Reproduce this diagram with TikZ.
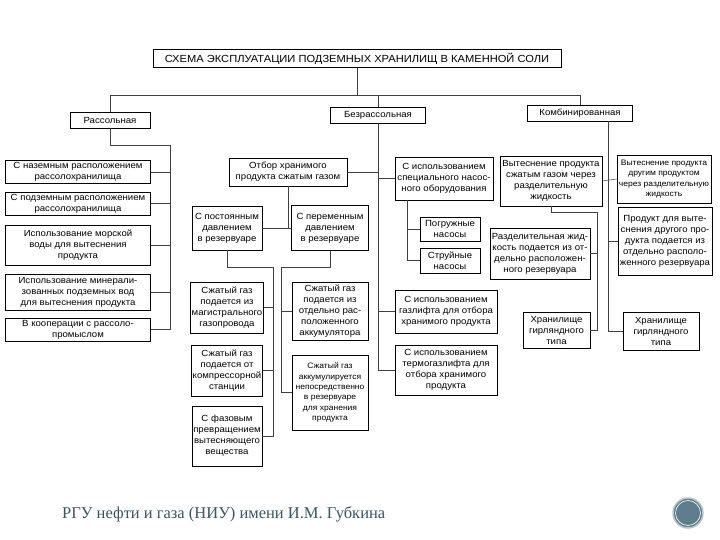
\documentclass[tikz,border=0pt]{standalone}
\usepackage{fontspec}
\setmainfont{Liberation Sans}[FakeStretch=1.08]
\newfontfamily\footfont{Liberation Serif}
\usetikzlibrary{positioning}

\definecolor{footcol}{HTML}{3B5563}
\definecolor{markcol}{HTML}{5F7E8C}
\definecolor{markring}{HTML}{B9C7CD}

\tikzset{
  blk/.style={draw=black, line width=0.7pt, align=center, inner sep=1pt,
    font=\fontsize{8.9}{11}\selectfont},
  small/.style={font=\fontsize{7.9}{10.3}\selectfont},
  wire/.style={draw=black!75, line width=0.5pt},
}

\begin{document}
\begin{tikzpicture}[x=1pt,y=-1pt]
\useasboundingbox[fill=white] (0,0) rectangle (720,540);

% head
\node[blk, line width=1pt, minimum width=408, minimum height=18, font=\fontsize{10.3}{12}\selectfont] (title) at (357,59) {СХЕМА ЭКСПЛУАТАЦИИ ПОДЗЕМНЫХ ХРАНИЛИЩ В КАМЕННОЙ СОЛИ};
\node[blk, minimum width=80, minimum height=16] (rass) at (110,120) {Рассольная};
\node[blk, minimum width=95, minimum height=16] (bezr) at (378,115) {Безрассольная};
\node[blk, minimum width=105, minimum height=16] (komb) at (580,113) {Комбинированная};
\coordinate (bus) at (0,95);

\draw[wire] (title.south) -- (title.south |- bus);
\draw[wire] (rass.north) |- (komb.north |- bus) -- (komb.north);
\draw[wire] (bezr.north) -- (bezr.north |- bus);

% brine column
\node[blk, minimum width=145, minimum height=23] (L1) at (78,172) {С наземным расположением\\рассолохранилища};
\node[blk, minimum width=145, minimum height=23] (L2) at (78,203.5) {С подземным расположением\\рассолохранилища};
\node[blk, minimum width=145, minimum height=40] (L3) at (78,245) {Использование морской\\воды для вытеснения\\продукта};
\node[blk, minimum width=145, minimum height=36] (L4) at (78,292) {Использование минерали-\\зованных подземных вод\\для вытеснения продукта};
\node[blk, minimum width=145, minimum height=23] (L5) at (78,329.5) {В кооперации с рассоло-\\промыслом};

\coordinate (lt) at (170,145);
\draw[wire] (rass.south) |- (lt) -- (lt |- L5.east) -- (L5.east);
\foreach \n in {L1,L2,L3,L4}
  \draw[wire] (\n.east) -- (\n.east -| lt);

% gas column
\node[blk, minimum width=118, minimum height=28] (otbor) at (288,172) {Отбор хранимого\\продукта сжатым газом};
\node[blk, minimum width=70, minimum height=44] (pconst) at (227,228) {С постоянным\\давлением\\в резервуаре};
\node[blk, minimum width=77, minimum height=45] (pvar) at (330,228) {С переменным\\давлением\\в резервуаре};

\draw[wire] (otbor.south) -- (otbor.south |- pconst.east);
\draw[wire] (pconst.east) -- (pvar.west);

\node[blk, minimum width=70, minimum height=51] (G1) at (227,307.5) {Сжатый газ\\подается из\\магистрального\\газопровода};
\node[blk, minimum width=70, minimum height=51] (G2) at (227,370.5) {Сжатый газ\\подается от\\компрессорной\\станции};
\node[blk, minimum width=70, minimum height=60] (G3) at (227,436) {С фазовым\\превращением\\вытесняющего\\вещества};
\node[blk, minimum width=76, minimum height=58] (G4) at (330,311) {Сжатый газ\\подается из\\отдельно рас-\\положенного\\аккумулятора};
\node[blk, small, minimum width=76, minimum height=75] (G5) at (330,392.5) {Сжатый газ\\аккумулируется\\непосредственно\\в резервуаре\\для хранения\\продукта};

\coordinate (gl) at (273,267);
\coordinate (gr) at (281,267);
\draw[wire] (pconst.south) |- (gl) -- (gl |- G3.east) -- (G3.east);
\foreach \n in {G1,G2}
  \draw[wire] (\n.east) -- (\n.east -| gl);
\draw[wire] (pvar.south) |- (gr) -- (gr |- G5.west) -- (G5.west);
\draw[wire] (G4.west) -- (G4.west -| gr);

% pumps and gaslift
\node[blk, minimum width=98, minimum height=43] (S1) at (444,178.5) {С использованием\\специального насос-\\ного оборудования};
\node[blk, minimum width=60, minimum height=24] (pogr) at (450,229) {Погружные\\насосы};
\node[blk, minimum width=60, minimum height=25] (struy) at (450,260.5) {Струйные\\насосы};
\node[blk, minimum width=102, minimum height=43] (gas) at (446,311.5) {С использованием\\газлифта для отбора\\хранимого продукта};
\node[blk, minimum width=102, minimum height=50] (termo) at (446,370) {С использованием\\термогазлифта для\\отбора хранимого\\продукта};

\draw[wire] (bezr.south) |- (termo.west);
\draw[wire] (otbor.east) -- (otbor.east -| bezr.south);
\foreach \n in {S1,gas}
  \draw[wire] (\n.west) -- (\n.west -| bezr.south);

\coordinate (st) at (407,0);
\draw[wire] (S1.south -| st) |- (struy.west);
\draw[wire] (pogr.west) -- (pogr.west -| st);

% combined column
\node[blk, minimum width=102, minimum height=50] (V1) at (551,181) {Вытеснение продукта\\сжатым газом через\\разделительную\\жидкость};
\node[blk, small, minimum width=94, minimum height=48] (V2) at (664,179) {Вытеснение продукта\\другим продуктом\\через разделительную\\жидкость};
\node[blk, minimum width=100, minimum height=51] (R1) at (540,253.5) {Разделительная жид-\\кость подается из от-\\дельно расположен-\\ного резервуара};
\node[blk, minimum width=94, minimum height=68] (P1) at (665,241) {Продукт для выте-\\снения другого про-\\дукта подается из\\отдельно располо-\\женного резервуара};
\node[blk, minimum width=67, minimum height=36] (H1) at (556.5,330) {Хранилище\\гирляндного\\типа};
\node[blk, minimum width=76, minimum height=38] (H2) at (661,331) {Хранилище\\гирляндного\\типа};

\coordinate (kt) at (608,0);
\draw[wire] (komb.south -| kt) |- (H2.west);
\draw[wire] (V1.east) -- (V2.west);
\draw[wire] (P1.west) -- (P1.west -| kt);

\coordinate (vt) at (597,212);
\draw[wire] (V1.south) |- (vt) -- (vt |- H1.east) -- (H1.east);
\draw[wire] (R1.east) -- (R1.east -| vt);

% footer
\node[anchor=west, inner sep=0pt, text=footcol, font=\footfont\fontsize{16.5}{19}\selectfont] (foot) at (62,514) {РГУ нефти и газа (НИУ) имени И.М. Губкина};
\node[circle, fill=markcol, draw=markring, line width=1.5pt, minimum size=30] (mark) at (688,513) {};
\draw[white, line width=0.6pt] (mark.center) circle (12.5);
\end{tikzpicture}
\end{document}
